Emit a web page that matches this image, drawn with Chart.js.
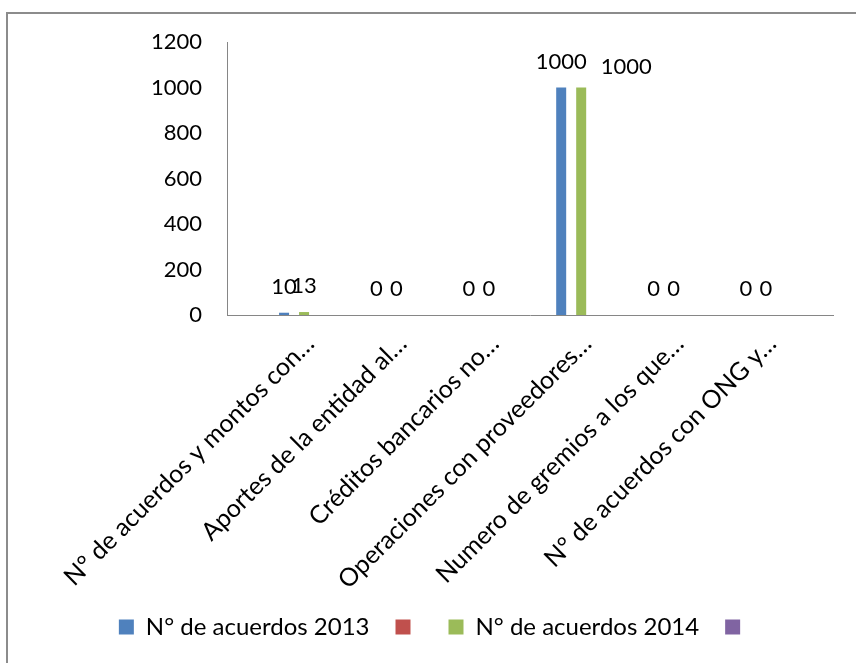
<!DOCTYPE html>
<html>
<head>
<meta charset="utf-8">
<title>Acuerdos 2013 - 2014</title>
<script src="https://cdn.jsdelivr.net/npm/chart.js@4.4.1/dist/chart.umd.min.js"></script>
<style>
  html, body { margin: 0; padding: 0; background: #fff; }
  #wrap { position: relative; width: 856px; height: 663px; overflow: hidden; }
  #frame {
    position: absolute; left: 6px; top: 12px; right: -10px; bottom: -10px;
    border-left: 2px solid #8c8c8c; border-top: 2px solid #8c8c8c;
  }
  canvas { position: absolute; left: 0; top: 0; }
</style>
</head>
<body>
<div id="wrap">
  <div id="frame"></div>
  <canvas id="chart" width="856" height="663"></canvas>
</div>
<script>
// ===== DATA =====
const categories = [
  'N° de acuerdos y montos con…',
  'Aportes de la entidad al…',
  'Créditos bancarios no…',
  'Operaciones con proveedores…',
  'Numero de gremios a los que…',
  'N° de acuerdos con ONG y…',
];
const acuerdos2013 = [10, 0, 0, 1000, 0, 0];
const acuerdos2014 = [13, 0, 0, 1000, 0, 0];
const emptySeries = [null, null, null, null, null, null];
const seriesNames = ['N° de acuerdos 2013', '', 'N° de acuerdos 2014', ''];
const yMin = 0;
const yMax = 1200;
const yStep = 200;

// ===== STYLE =====
const COLORS = {
  blue: '#4F81BD',
  red: '#C0504D',
  green: '#9BBB59',
  purple: '#8064A2',
  axis: '#868686',
  text: '#000000',
};
const FAMILY = 'Lato, "Open Sans", sans-serif';
const NUM_FONT = { family: FAMILY, size: 22 };
const TEXT_FONT = { family: FAMILY, size: 24 };
const CAT_FONT = { family: FAMILY, size: 25 };

// value labels drawn above each bar (no datalabels plugin offline)
const valueLabels = {
  id: 'valueLabels',
  afterDatasetsDraw(chart, args, opts) {
    const ctx = chart.ctx;
    ctx.save();
    ctx.font = `${NUM_FONT.size}px ${NUM_FONT.family}`;
    ctx.fillStyle = COLORS.text;
    ctx.textAlign = 'center';
    ctx.textBaseline = 'alphabetic';
    chart.data.datasets.forEach((ds, di) => {
      const meta = chart.getDatasetMeta(di);
      if (meta.hidden) return;
      meta.data.forEach((bar, i) => {
        const v = ds.data[i];
        if (v === null || v === undefined) return;
        const shift = (opts.shifts || []).find((s) => s.dataset === di && s.index === i);
        const dx = shift ? shift.dx : 0;
        const dy = shift ? shift.dy : 0;
        ctx.fillText(String(v), bar.x + dx, bar.y - opts.gap + dy);
      });
    });
    ctx.restore();
  },
};

const seriesData = [acuerdos2013, emptySeries, acuerdos2014, emptySeries];
const seriesColors = [COLORS.blue, COLORS.red, COLORS.green, COLORS.purple];

new Chart(document.getElementById('chart'), {
  type: 'bar',
  data: {
    labels: categories.map((_, i) => i),
    datasets: seriesData.map((d, i) => ({
      label: seriesNames[i],
      data: d,
      backgroundColor: seriesColors[i],
      borderWidth: 0,
      categoryPercentage: 0.433,
      barPercentage: 1,
    })),
  },
  options: {
    responsive: false,
    animation: false,
    devicePixelRatio: 1,
    layout: { padding: { top: 42, left: 38, right: 23, bottom: 14 } },
    scales: {
      x: {
        type: 'linear',
        bounds: 'data',
        offset: false,
        min: -0.78,
        max: 5.78,
        grid: { display: false, drawTicks: false, offset: false },
        border: { color: COLORS.axis, width: 1 },
        afterBuildTicks: (scale) => {
          scale.ticks = categories.map((_, i) => ({ value: i }));
        },
        afterFit: (scale) => { scale.height = 274; },
        ticks: {
          autoSkip: false,
          minRotation: 45,
          maxRotation: 45,
          padding: 14,
          labelOffset: 11,
          color: COLORS.text,
          font: CAT_FONT,
          callback: (v) => categories[v],
        },
      },
      y: {
        min: yMin,
        max: yMax,
        grid: { display: false, drawTicks: false },
        border: { color: COLORS.axis, width: 1 },
        afterFit: (scale) => { scale.width = 189; },
        ticks: {
          stepSize: yStep,
          padding: 25,
          color: COLORS.text,
          font: NUM_FONT,
          callback: (v) => String(v),
        },
      },
    },
    plugins: {
      legend: {
        position: 'bottom',
        labels: {
          boxWidth: 15,
          boxHeight: 15,
          padding: 26,
          color: COLORS.text,
          font: TEXT_FONT,
        },
      },
      tooltip: { enabled: false },
      valueLabels: {
        gap: 19,
        shifts: [{ dataset: 2, index: 3, dx: 45, dy: 5 }],
      },
    },
  },
  plugins: [valueLabels],
});
</script>
</body>
</html>
